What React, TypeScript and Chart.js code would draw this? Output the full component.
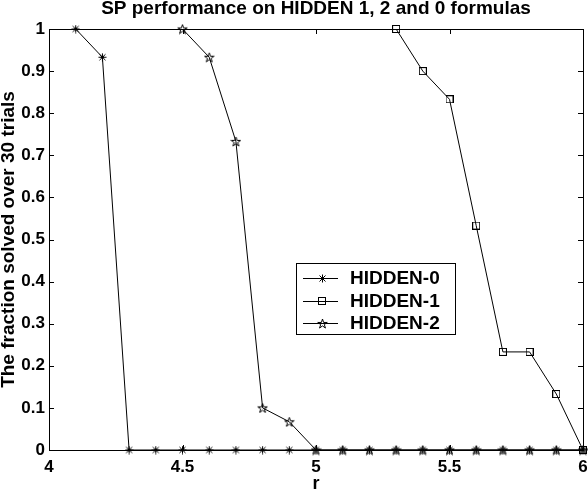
import React, { useEffect, useRef } from "react";
import { Chart, registerables } from "chart.js";

Chart.register(...registerables);

const chartTitle = "SP performance on HIDDEN 1, 2 and 0 formulas";
const xAxisTitle = "r";
const yAxisTitle = "The fraction solved over 30 trials";

const xTickValues = [4, 4.5, 5, 5.5, 6];
const xTickLabels = ["4", "4.5", "5", "5.5", "6"];
const yTickValues = [0, 0.1, 0.2, 0.3, 0.4, 0.5, 0.6, 0.7, 0.8, 0.9, 1];
const yTickLabels = ["0", "0.1", "0.2", "0.3", "0.4", "0.5", "0.6", "0.7", "0.8", "0.9", "1"];

const seriesLabels = ["HIDDEN-0", "HIDDEN-1", "HIDDEN-2"];

const r0 = [4.1, 4.2, 4.3, 4.4, 4.5, 4.6, 4.7, 4.8, 4.9, 5.0, 5.1, 5.2, 5.3, 5.4, 5.5, 5.6, 5.7, 5.8, 5.9, 6.0];
const hidden0 = [1, 0.933, 0, 0, 0, 0, 0, 0, 0, 0, 0, 0, 0, 0, 0, 0, 0, 0, 0, 0];

const r1 = [5.3, 5.4, 5.5, 5.6, 5.7, 5.8, 5.9, 6.0];
const hidden1 = [1, 0.9, 0.833, 0.533, 0.233, 0.233, 0.133, 0];

const r2 = [4.5, 4.6, 4.7, 4.8, 4.9, 5.0, 5.1, 5.2, 5.3, 5.4, 5.5, 5.6, 5.7, 5.8, 5.9, 6.0];
const hidden2 = [1, 0.933, 0.733, 0.1, 0.067, 0, 0, 0, 0, 0, 0, 0, 0, 0, 0, 0];

const FONT = "'Liberation Sans', Arial, Helvetica, sans-serif";

function makePentagram(size: number): HTMLCanvasElement {
  const c = document.createElement("canvas");
  c.width = size;
  c.height = size;
  const ctx = c.getContext("2d")!;
  const cx = size / 2;
  const cy = size / 2 + 0.5;
  const R = size / 2 - 0.5;
  const r = R * 0.382;
  ctx.beginPath();
  for (let i = 0; i < 10; i++) {
    const ang = -Math.PI / 2 + (i * Math.PI) / 5;
    const rad = i % 2 === 0 ? R : r;
    const px = cx + rad * Math.cos(ang);
    const py = cy + rad * Math.sin(ang);
    if (i === 0) ctx.moveTo(px, py);
    else ctx.lineTo(px, py);
  }
  ctx.closePath();
  ctx.strokeStyle = "#000";
  ctx.lineWidth = 1;
  ctx.stroke();
  return c;
}

function makeSquare(size: number): HTMLCanvasElement {
  const c = document.createElement("canvas");
  c.width = size;
  c.height = size;
  const ctx = c.getContext("2d")!;
  ctx.strokeStyle = "#000";
  ctx.lineWidth = 1;
  ctx.strokeRect(0.5, 0.5, size - 1, size - 1);
  return c;
}

function makeAsterisk(size: number): HTMLCanvasElement {
  const c = document.createElement("canvas");
  c.width = size;
  c.height = size;
  const ctx = c.getContext("2d")!;
  const m = size / 2;
  const R = size / 2 - 0.5;
  ctx.strokeStyle = "#000";
  ctx.lineWidth = 1;
  ctx.beginPath();
  ctx.moveTo(m, m - R); ctx.lineTo(m, m + R);
  ctx.moveTo(m - R, m); ctx.lineTo(m + R, m);
  const d = R * 0.75;
  ctx.moveTo(m - d, m - d); ctx.lineTo(m + d, m + d);
  ctx.moveTo(m - d, m + d); ctx.lineTo(m + d, m - d);
  ctx.stroke();
  return c;
}

export default function App() {
  const ref = useRef<HTMLCanvasElement | null>(null);

  useEffect(() => {
    document.body.style.margin = "0";
    const canvas = ref.current!;
    const star = makeAsterisk(9);
    const square = makeSquare(8);
    const penta = makePentagram(11);
    const markers = [star, square, penta];

    const frameAndText = {
      id: "frameAndText",
      afterDraw(chart: any) {
        const ctx = chart.ctx as CanvasRenderingContext2D;
        const { left, right, top, bottom } = chart.chartArea;
        const xs = chart.scales.x;
        const ys = chart.scales.y;
        ctx.save();
        ctx.strokeStyle = "#000";
        ctx.lineWidth = 1;
        ctx.strokeRect(Math.round(left) + 0.5, Math.round(top) + 0.5, Math.round(right - left), Math.round(bottom - top));
        const tl = 5;
        ctx.beginPath();
        for (const v of xTickValues) {
          const px = Math.round(xs.getPixelForValue(v)) + 0.5;
          ctx.moveTo(px, bottom); ctx.lineTo(px, bottom - tl);
          ctx.moveTo(px, top); ctx.lineTo(px, top + tl);
        }
        for (const v of yTickValues) {
          const py = Math.round(ys.getPixelForValue(v)) + 0.5;
          ctx.moveTo(left, py); ctx.lineTo(left + tl, py);
          ctx.moveTo(right, py); ctx.lineTo(right - tl, py);
        }
        ctx.stroke();

        // title
        ctx.fillStyle = "#000";
        ctx.font = `bold 19px ${FONT}`;
        ctx.textAlign = "center";
        ctx.textBaseline = "middle";
        ctx.fillText(chartTitle, (left + right) / 2, 9);
        // x title
        ctx.font = `bold 18px ${FONT}`;
        ctx.fillText(xAxisTitle, (left + right) / 2, 484);
        // y title
        ctx.save();
        ctx.font = `bold 19px ${FONT}`;
        ctx.translate(9, (top + bottom) / 2);
        ctx.rotate(-Math.PI / 2);
        ctx.fillText(yAxisTitle, 0, 0);
        ctx.restore();

        // legend
        const lx = 296, ly = 263, lw = 159, lh = 71;
        ctx.fillStyle = "#fff";
        ctx.fillRect(lx, ly, lw, lh);
        ctx.strokeRect(lx + 0.5, ly + 0.5, lw, lh);
        ctx.textAlign = "left";
        ctx.font = `bold 19px ${FONT}`;
        seriesLabels.forEach((lab, i) => {
          const y = 278 + i * 22.5;
          ctx.beginPath();
          ctx.moveTo(303, Math.round(y) + 0.5);
          ctx.lineTo(338, Math.round(y) + 0.5);
          ctx.stroke();
          const mk = markers[i];
          ctx.drawImage(mk, Math.round(321.5 - mk.width / 2 + 0.5), Math.round(y + 0.5 - mk.height / 2));
          ctx.fillStyle = "#000";
          ctx.fillText(lab, 350, y + 1);
        });
        ctx.restore();
      },
    };

    const mk = (xs: number[], ys: number[]) => xs.map((x, i) => ({ x, y: ys[i] }));

    const chart = new Chart(canvas, {
      type: "scatter",
      data: {
        datasets: [
          { label: seriesLabels[0], data: mk(r0, hidden0), pointStyle: star as any, order: 3 },
          { label: seriesLabels[1], data: mk(r1, hidden1), pointStyle: square as any, order: 2 },
          { label: seriesLabels[2], data: mk(r2, hidden2), pointStyle: penta as any, order: 1 },
        ].map((d) => ({
          ...d,
          showLine: true,
          borderColor: "#000",
          backgroundColor: "#000",
          borderWidth: 1,
          pointRadius: 4,
          pointHoverRadius: 4,
          clip: false as any,
        })),
      },
      plugins: [frameAndText],
      options: {
        responsive: false,
        animation: false,
        events: [],
        layout: { padding: { top: 29, right: 5, left: 0, bottom: 0 } },
        plugins: {
          legend: { display: false },
          title: { display: false },
          tooltip: { enabled: false },
        },
        scales: {
          x: {
            type: "linear",
            min: 4,
            max: 6,
            afterBuildTicks: (s: any) => {
              s.ticks = xTickValues.map((v) => ({ value: v }));
            },
            afterFit: (s: any) => {
              s.height = 42;
              s.paddingLeft = 0;
              s.paddingRight = 0;
            },
            grid: { display: false, drawTicks: false },
            border: { display: false },
            ticks: {
              color: "#000",
              font: { family: FONT, size: 17, weight: "bold" },
              padding: 7,
              maxRotation: 0,
              autoSkip: false,
              callback: (_v: any, i: number) => xTickLabels[i],
            },
          },
          y: {
            type: "linear",
            min: 0,
            max: 1,
            afterBuildTicks: (s: any) => {
              s.ticks = yTickValues.map((v) => ({ value: v }));
            },
            afterFit: (s: any) => {
              s.width = 49;
              s.paddingTop = 0;
              s.paddingBottom = 0;
            },
            grid: { display: false, drawTicks: false },
            border: { display: false },
            ticks: {
              color: "#000",
              font: { family: FONT, size: 17, weight: "bold" },
              padding: 4,
              autoSkip: false,
              callback: (_v: any, i: number) => yTickLabels[i],
            },
          },
        },
      },
    });
    return () => chart.destroy();
  }, []);

  return (
    <div style={{ width: 588, height: 492 }}>
      <canvas ref={ref} width={588} height={492} style={{ display: "block" }} />
    </div>
  );
}
